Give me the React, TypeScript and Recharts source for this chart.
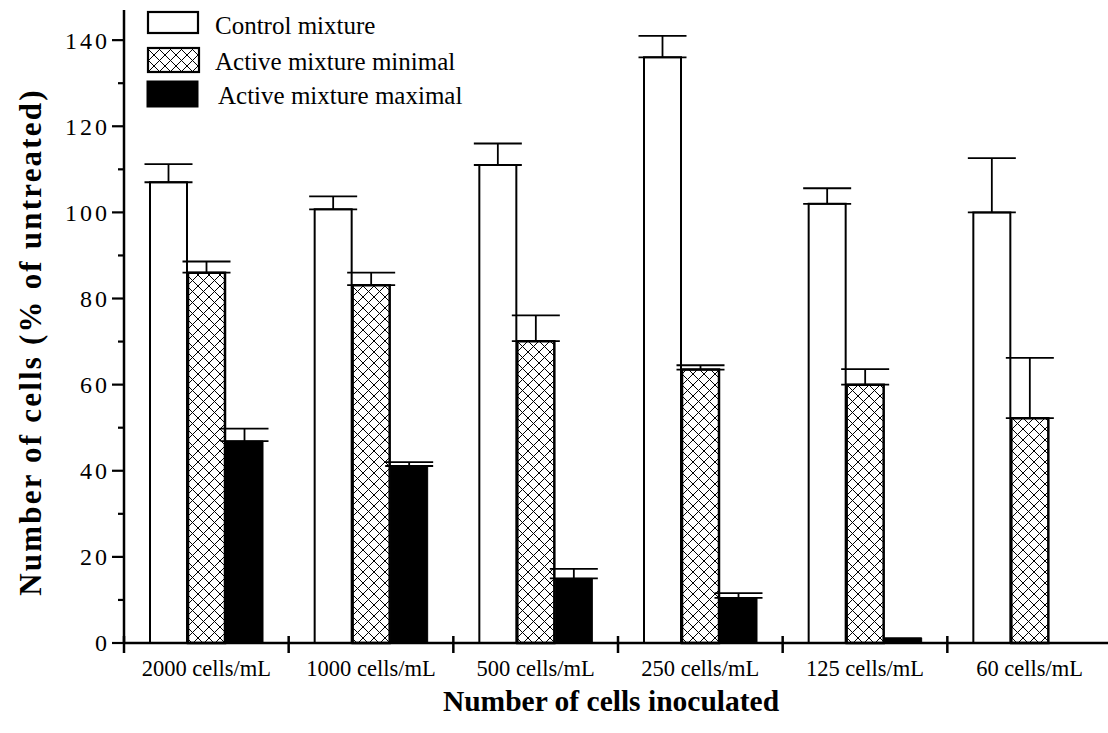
import React from 'react';
import { BarChart, Bar, XAxis, YAxis, ErrorBar, Legend } from 'recharts';

const categories = ['2000 cells/mL', '1000 cells/mL', '500 cells/mL', '250 cells/mL', '125 cells/mL', '60 cells/mL'];
const controlValues = [107, 100.7, 111, 136, 102, 100];
const controlErrors = [4.2, 3, 5, 5, 3.6, 12.6];
const minimalValues = [86, 83.1, 70.1, 63.5, 60, 52.2];
const minimalErrors = [2.6, 2.9, 6, 1, 3.6, 14];
const maximalValues = [46.9, 41.1, 15, 10.5, 1.2, 0];
const maximalErrors: (number | null)[] = [2.9, 0.9, 2.2, 1.1, null, null];
const yTicks = [0, 10, 20, 30, 40, 50, 60, 70, 80, 90, 100, 110, 120, 130, 140];
const legendLabels = ['Control mixture', 'Active mixture minimal', 'Active mixture maximal'];
const xTitle = 'Number of cells inoculated';
const yTitle = 'Number of cells (% of untreated)';

const FONT = '"Liberation Serif", "Times New Roman", serif';
const CHART_W = 1112;
const CHART_H = 733;
const Y_AXIS_W = 124;
const PLOT_W = CHART_W - Y_AXIS_W;
const HALF_BAND = PLOT_W / categories.length / 2;

const err = (e: number | null) => (e == null ? null : [0, e]);

const data = categories.map((name, i) => ({
  name,
  control: controlValues[i],
  controlErr: err(controlErrors[i]),
  minimal: minimalValues[i],
  minimalErr: err(minimalErrors[i]),
  maximal: maximalValues[i],
  maximalErr: err(maximalErrors[i]),
}));

const YTick = (props: any) => {
  const { x, y, payload } = props;
  const major = payload.value % 20 === 0;
  return (
    <g>
      <line x1={x - (major ? 12 : 6)} x2={x} y1={y} y2={y} stroke="#000" strokeWidth={2.2} />
      {major && (
        <text
          x={x - 14}
          y={y}
          dy="0.35em"
          textAnchor="end"
          fontFamily={FONT}
          fontSize={24}
          letterSpacing={3}
          fill="#000"
        >
          {payload.value}
        </text>
      )}
    </g>
  );
};

const XTick = (props: any) => {
  const { x, y, payload, index } = props;
  return (
    <g>
      {index === 0 && (
        <line x1={x - HALF_BAND} x2={x - HALF_BAND} y1={y - 7} y2={y + 10} stroke="#000" strokeWidth={2.5} />
      )}
      <line x1={x + HALF_BAND} x2={x + HALF_BAND} y1={y - 7} y2={y + 10} stroke="#000" strokeWidth={2.5} />
      <text x={x} y={y + 33} textAnchor="middle" fontFamily={FONT} fontSize={22.5} fill="#000">
        {payload.value}
      </text>
    </g>
  );
};

const XTitle = () => (
  <text x={611} y={711} textAnchor="middle" fontFamily={FONT} fontWeight="bold" fontSize={29.5} fill="#000">
    {xTitle}
  </text>
);

const YTitle = () => (
  <text
    x={0}
    y={0}
    transform="translate(41, 342) rotate(-90)"
    textAnchor="middle"
    fontFamily={FONT}
    fontWeight="bold"
    fontSize={31}
    letterSpacing={2.2}
    fill="#000"
  >
    {yTitle}
  </text>
);

const LegendContent = () => (
  <svg width={500} height={115} style={{ display: 'block' }}>
    <defs>
      <pattern id="xhatchLegend" patternUnits="userSpaceOnUse" width="11" height="11">
        <rect width="11" height="11" fill="#fff" />
        <path d="M0,0 L11,11 M11,0 L0,11" stroke="#000" strokeWidth="1" />
      </pattern>
    </defs>
    <rect x={148} y={12} width={50} height={21} fill="#fff" stroke="#000" strokeWidth={2.2} />
    <rect x={148} y={48} width={51} height={24} fill="url(#xhatchLegend)" stroke="#000" strokeWidth={2.2} />
    <rect x={147} y={81} width={51} height={26} fill="#000" stroke="#000" strokeWidth={1} />
    <text x={215} y={34} fontFamily={FONT} fontSize={25} fill="#000">{legendLabels[0]}</text>
    <text x={215} y={70} fontFamily={FONT} fontSize={25} fill="#000">{legendLabels[1]}</text>
    <text x={218} y={104} fontFamily={FONT} fontSize={25} fill="#000">{legendLabels[2]}</text>
  </svg>
);

export default function App() {
  return (
    <div style={{ position: 'absolute', left: 0, top: 0, width: 1108, height: 733, overflow: 'hidden', background: '#fff' }}>
      <BarChart
        width={CHART_W}
        height={CHART_H}
        data={data}
        margin={{ top: 10, right: 0, bottom: 0, left: 0 }}
        barSize={37}
        barGap={1}
      >
        <defs>
          <pattern id="xhatch" patternUnits="userSpaceOnUse" width="11" height="11">
            <rect width="11" height="11" fill="#fff" />
            <path d="M0,0 L11,11 M11,0 L0,11" stroke="#000" strokeWidth="1" />
          </pattern>
        </defs>
        <XAxis
          dataKey="name"
          height={90}
          interval={0}
          tickSize={0}
          tickMargin={0}
          tickLine={false}
          axisLine={{ stroke: '#000', strokeWidth: 2.5 }}
          tick={<XTick />}
          label={<XTitle />}
        />
        <YAxis
          width={Y_AXIS_W}
          domain={[0, 147]}
          ticks={yTicks}
          interval={0}
          tickSize={0}
          tickMargin={0}
          tickLine={false}
          axisLine={{ stroke: '#000', strokeWidth: 2.5 }}
          tick={<YTick />}
          label={<YTitle />}
        />
        <Legend
          layout="horizontal"
          verticalAlign="middle"
          align="center"
          content={<LegendContent />}
          wrapperStyle={{ position: 'absolute', left: 0, top: 0, width: 500, height: 115 }}
        />
        <Bar dataKey="control" name={legendLabels[0]} fill="#fff" stroke="#000" strokeWidth={2} isAnimationActive={false}>
          <ErrorBar dataKey="controlErr" width={24} stroke="#000" strokeWidth={1.8} direction="y" />
        </Bar>
        <Bar dataKey="minimal" name={legendLabels[1]} fill="url(#xhatch)" stroke="#000" strokeWidth={2.5} isAnimationActive={false}>
          <ErrorBar dataKey="minimalErr" width={24} stroke="#000" strokeWidth={1.8} direction="y" />
        </Bar>
        <Bar dataKey="maximal" name={legendLabels[2]} fill="#000" stroke="#000" strokeWidth={1} isAnimationActive={false}>
          <ErrorBar dataKey="maximalErr" width={24} stroke="#000" strokeWidth={1.8} direction="y" />
        </Bar>
      </BarChart>
    </div>
  );
}
